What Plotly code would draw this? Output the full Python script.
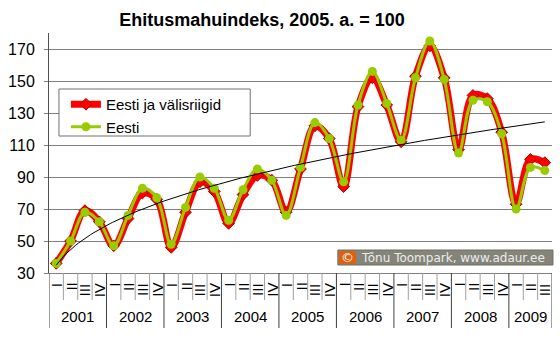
import numpy as np
import plotly.graph_objects as go

years = ["2001", "2002", "2003", "2004", "2005", "2006", "2007", "2008", "2009"]
quarters = ["I", "II", "III", "IV"]
n_quarters_per_year = [4, 4, 4, 4, 4, 4, 4, 4, 3]

# Eesti ja välisriigid (red)
eesti_ja_valisriigid = [36, 50, 69, 62, 47, 64, 80, 76, 46, 68, 87, 81,
                        61, 79, 91, 88, 68, 95, 122, 114, 84, 134, 152, 135,
                        112, 153, 172, 152, 107, 141, 139, 118, 73, 101, 99]
# Eesti (green)
eesti = [36, 50, 68, 62, 47, 66, 83, 77, 48, 71, 90, 83,
         63, 82, 95, 88, 66, 96, 124, 114, 87, 135, 156, 136,
         113, 152, 175, 151, 105, 138, 137, 117, 70, 96, 94]

y_ticks = [30, 50, 70, 90, 110, 130, 150, 170]

n = len(eesti)
x = list(range(n))

# Power trend line fitted to the data
t = np.arange(1, n + 1)
b, loga = np.polyfit(np.log(t), np.log(np.array(eesti_ja_valisriigid, float)), 1)
tt = np.linspace(1, n, 200)
trend = np.exp(loga) * tt ** b

FONT = "Liberation Sans, Arial, sans-serif"

fig = go.Figure()
fig.add_trace(go.Scatter(
    x=x, y=eesti_ja_valisriigid, name="Eesti ja välisriigid", legendgroup="a",
    mode="lines+markers", line=dict(color="#ff0000", width=7, shape="spline", smoothing=1.0),
    marker=dict(symbol="diamond", size=9, color="#ff0000", line=dict(color="#b00000", width=1)),
))
fig.add_trace(go.Scatter(
    x=x, y=eesti, name="Eesti", legendgroup="b",
    mode="lines+markers", line=dict(color="#99cc00", width=3, shape="spline", smoothing=1.0),
    marker=dict(symbol="circle", size=9, color="#99cc00"),
))
fig.add_trace(go.Scatter(
    x=tt - 1, y=trend, mode="lines", showlegend=False, hoverinfo="skip",
    line=dict(color="black", width=1),
))

L, R, T, B = 47, 8, 33, 69
W, H = 560, 342
pw, ph = W - L - R, H - T - B


def px_x(p):
    return (p - L) / pw


def px_y(p):
    return (H - B - p) / ph


shapes = []
annotations = []
# year / quarter dividers
start = 0
bounds = [-0.5]
for cnt in n_quarters_per_year:
    for k in range(1, cnt):
        shapes.append(dict(type="line", xref="x", yref="paper", x0=start + k - 0.5, x1=start + k - 0.5,
                           y0=0, y1=px_y(300), line=dict(color="#a0a0a0", width=1)))
    start += cnt
    bounds.append(start - 0.5)
for bx in bounds:
    shapes.append(dict(type="line", xref="x", yref="paper", x0=bx, x1=bx,
                       y0=0, y1=px_y(328), line=dict(color="#404040", width=1)))

# quarter labels (rotated) and year labels
idx = 0
for yr, cnt in zip(years, n_quarters_per_year):
    for k in range(cnt):
        annotations.append(dict(x=idx + k, y=px_y(281), xref="x", yref="paper", text=quarters[k],
                                textangle=-90, showarrow=False, xanchor="center", yanchor="top",
                                font=dict(family=FONT, size=15, color="black")))
    annotations.append(dict(x=idx + (cnt - 1) / 2, y=px_y(316), xref="x", yref="paper", text=yr,
                            showarrow=False, xanchor="center", yanchor="middle",
                            font=dict(family=FONT, size=15, color="black")))
    idx += cnt

# legend box
shapes.append(dict(type="rect", xref="paper", yref="paper", x0=px_x(57), x1=px_x(249),
                   y0=px_y(136), y1=px_y(89), line=dict(color="#707070", width=1),
                   fillcolor="white", layer="above"))

# watermark
shapes.append(dict(type="rect", xref="paper", yref="paper", x0=px_x(337), x1=px_x(553),
                   y0=px_y(265), y1=px_y(250), line=dict(color="#6f6f62", width=1),
                   fillcolor="#84847a", layer="above"))
shapes.append(dict(type="rect", xref="paper", yref="paper", x0=px_x(338), x1=px_x(355),
                   y0=px_y(264), y1=px_y(251), line=dict(width=0),
                   fillcolor="#e0600f", layer="above"))
annotations.append(dict(x=px_x(346.5), y=px_y(257.5), xref="paper", yref="paper", text="©",
                        showarrow=False, xanchor="center", yanchor="middle",
                        font=dict(family="DejaVu Sans", size=13, color="white")))
annotations.append(dict(x=px_x(358), y=px_y(257.5), xref="paper", yref="paper",
                        text="Tõnu Toompark, www.adaur.ee",
                        showarrow=False, xanchor="left", yanchor="middle",
                        font=dict(family="DejaVu Sans", size=12, color="#ececec")))

fig.update_layout(
    width=W, height=H,
    margin=dict(l=L, r=R, t=T, b=B),
    paper_bgcolor="white", plot_bgcolor="white",
    title=dict(text="<b>Ehitusmahuindeks, 2005. a. = 100</b>", x=262 / W, xanchor="center",
               y=1 - 20 / H, yanchor="middle", font=dict(family=FONT, size=18, color="black")),
    showlegend=True,
    legend=dict(x=px_x(64), y=px_y(88), xanchor="left", yanchor="top", bgcolor="rgba(0,0,0,0)",
                borderwidth=0, font=dict(family=FONT, size=15, color="black"),
                tracegroupgap=0, traceorder="normal"),
    xaxis=dict(range=[-0.5, n - 0.5], showticklabels=False, ticks="", showgrid=False,
               zeroline=False, showline=True, linecolor="#808080", linewidth=1),
    yaxis=dict(range=[30, 180], tickvals=y_ticks, ticks="outside", ticklen=4, tickcolor="#808080",
               showgrid=True, gridcolor="#808080", gridwidth=1, zeroline=False,
               showline=True, linecolor="#505050", linewidth=1, ticklabelstandoff=6,
               tickfont=dict(family=FONT, size=16, color="black")),
    shapes=shapes, annotations=annotations,
)

fig.write_html("out.html")
